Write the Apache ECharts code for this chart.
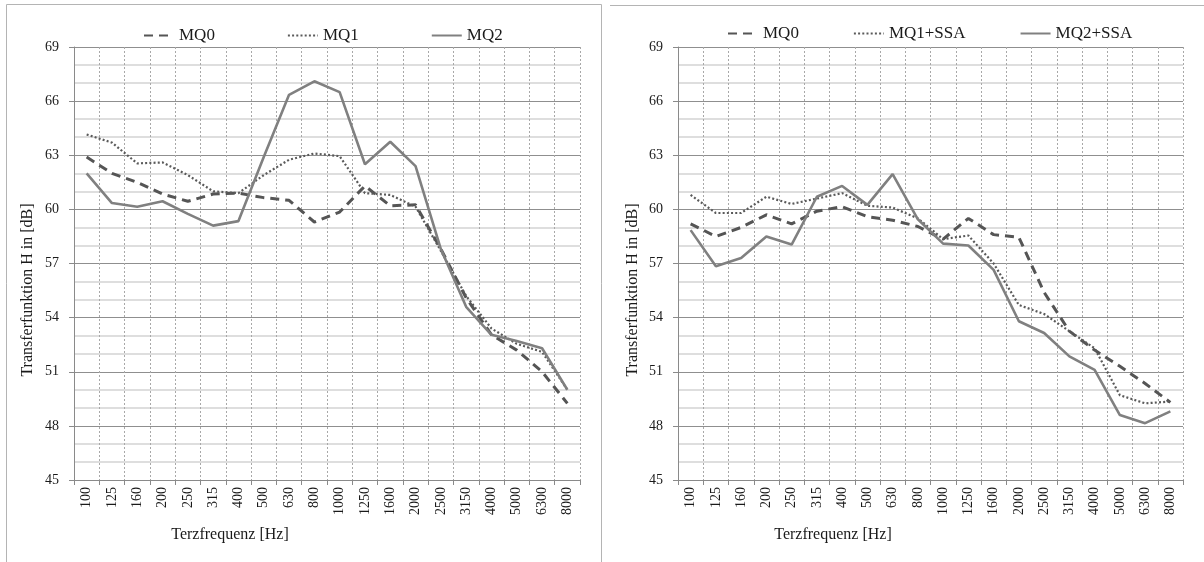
<!DOCTYPE html>
<html>
<head>
<meta charset="utf-8">
<script src="https://cdn.jsdelivr.net/npm/echarts@6/dist/echarts.min.js"></script>
<style>
html,body{margin:0;padding:0;background:#fff;}
#c{width:1204px;height:562px;}
</style>
</head>
<body>
<div id="c"></div>
<script>
// ---- data ----
const categories = ['100','125','160','200','250','315','400','500','630','800','1000','1250','1600','2000','2500','3150','4000','5000','6300','8000'];

// left chart
const leftMQ0 = [62.9, 62.0, 61.5, 60.85, 60.45, 60.85, 60.9, 60.65, 60.5, 59.3, 59.85, 61.3, 60.2, 60.25, 57.8, 55.1, 53.05, 52.2, 51.0, 49.25];
const leftMQ1 = [64.15, 63.7, 62.55, 62.6, 61.9, 61.0, 60.9, 61.9, 62.75, 63.1, 62.95, 60.9, 60.8, 60.15, 57.7, 55.2, 53.4, 52.55, 52.1, 50.0];
const leftMQ2 = [62.0, 60.35, 60.15, 60.45, 59.75, 59.1, 59.35, 62.9, 66.35, 67.1, 66.5, 62.5, 63.75, 62.4, 57.8, 54.6, 53.05, 52.7, 52.3, 50.0];

// right chart
const rightMQ0 = [59.2, 58.5, 59.0, 59.7, 59.2, 59.9, 60.15, 59.6, 59.4, 59.05, 58.35, 59.5, 58.6, 58.45, 55.4, 53.25, 52.2, 51.3, 50.35, 49.3];
const rightMQ1SSA = [60.8, 59.8, 59.8, 60.7, 60.3, 60.6, 60.9, 60.2, 60.1, 59.5, 58.35, 58.55, 57.0, 54.7, 54.2, 53.25, 52.3, 49.7, 49.25, 49.35];
const rightMQ2SSA = [58.85, 56.85, 57.3, 58.5, 58.05, 60.7, 61.3, 60.25, 61.95, 59.45, 58.1, 58.0, 56.65, 53.8, 53.15, 51.85, 51.1, 48.6, 48.15, 48.8];

const leftNames = ['MQ0', 'MQ1', 'MQ2'];
const rightNames = ['MQ0', 'MQ1+SSA', 'MQ2+SSA'];
const yMin = 45, yMax = 69, yStep = 3;
const xTitle = 'Terzfrequenz [Hz]';
const yTitle = 'Transferfunktion H in [dB]';

// ---- styles ----
const FONT = "'Liberation Serif', 'Times New Roman', serif";
const TXT = '#1a1a1a';
const styles = [
  {color: '#555555', width: 3, type: [9, 6]},
  {color: '#5a5a5a', width: 2.2, type: [2, 2.2]},
  {color: '#808080', width: 2.6, type: 'solid'}
];

function xAxisFor(gi) {
  return {
    type: 'category', gridIndex: gi, data: categories, boundaryGap: true,
    axisLine: {show: true, lineStyle: {color: '#8a8a8a', width: 1}},
    axisTick: {show: true, alignWithLabel: false, length: 5, lineStyle: {color: '#8a8a8a'}},
    axisLabel: {rotate: 90, interval: 0, margin: 7, fontFamily: FONT, fontSize: 14, color: TXT},
    splitLine: {show: true, interval: 0, lineStyle: {color: '#a8a8a8', width: 1, type: [2, 2]}}
  };
}
function yAxisFor(gi, labelMargin) {
  return {
    type: 'value', gridIndex: gi, min: yMin, max: yMax, interval: yStep,
    axisLine: {show: true, lineStyle: {color: '#8a8a8a', width: 1}},
    axisTick: {show: true, length: 5, lineStyle: {color: '#8a8a8a'}},
    axisLabel: {margin: labelMargin, fontFamily: FONT, fontSize: 14, color: TXT},
    splitLine: {show: true, lineStyle: {color: '#8f8f8f', width: 1}},
    minorTick: {show: false, splitNumber: 3},
    minorSplitLine: {show: true, lineStyle: {color: '#d4d4d4', width: 1.5}}
  };
}
function seriesFor(names, datas, gi) {
  return names.map((n, i) => ({
    name: n, type: 'line', xAxisIndex: gi, yAxisIndex: gi,
    data: datas[i], showSymbol: false, symbol: 'none', smooth: false,
    lineStyle: {color: styles[i].color, width: styles[i].width, type: styles[i].type},
    itemStyle: {color: styles[i].color},
    z: 3 + i
  }));
}

const legendCommon = {
  itemWidth: 30, itemHeight: 12,
  itemStyle: {opacity: 0},
  textStyle: {fontFamily: FONT, fontSize: 17, color: TXT}
};

const option = {
  backgroundColor: '#ffffff',
  animation: false,
  grid: [
    {left: 74, right: 624, top: 47, bottom: 82},
    {left: 678, right: 21, top: 47, bottom: 82}
  ],
  xAxis: [xAxisFor(0), xAxisFor(1)],
  yAxis: [yAxisFor(0, 15), yAxisFor(1, 15)],
  legend: [
    Object.assign({data: leftNames, left: 138, top: 22, itemGap: 72}, legendCommon),
    Object.assign({data: rightNames, left: 722, top: 20, itemGap: 54}, legendCommon)
  ],
  series: [].concat(
    seriesFor(leftNames, [leftMQ0, leftMQ1, leftMQ2], 0),
    seriesFor(rightNames, [rightMQ0, rightMQ1SSA, rightMQ2SSA], 1)
  ),
  graphic: [
    {type: 'rect', silent: true, shape: {x: 6.5, y: 4.5, width: 595, height: 570},
     style: {fill: null, stroke: '#b4b4b4', lineWidth: 1}},
    {type: 'line', silent: true, shape: {x1: 610, y1: 5.5, x2: 1204, y2: 5.5},
     style: {stroke: '#b4b4b4', lineWidth: 1}},
    {type: 'text', x: 230, y: 535, silent: true,
     style: {text: xTitle, fontFamily: FONT, fontSize: 16, fill: TXT, textAlign: 'center', textVerticalAlign: 'middle'}},
    {type: 'text', x: 833, y: 535, silent: true,
     style: {text: xTitle, fontFamily: FONT, fontSize: 16, fill: TXT, textAlign: 'center', textVerticalAlign: 'middle'}},
    {type: 'text', x: 28, y: 290, rotation: Math.PI / 2, silent: true,
     style: {text: yTitle, fontFamily: FONT, fontSize: 16, fill: TXT, textAlign: 'center', textVerticalAlign: 'middle'}},
    {type: 'text', x: 633, y: 290, rotation: Math.PI / 2, silent: true,
     style: {text: yTitle, fontFamily: FONT, fontSize: 16, fill: TXT, textAlign: 'center', textVerticalAlign: 'middle'}}
  ]
};

const chart = echarts.init(document.getElementById('c'), null, {renderer: 'canvas'});
chart.setOption(option);
</script>
</body>
</html>
